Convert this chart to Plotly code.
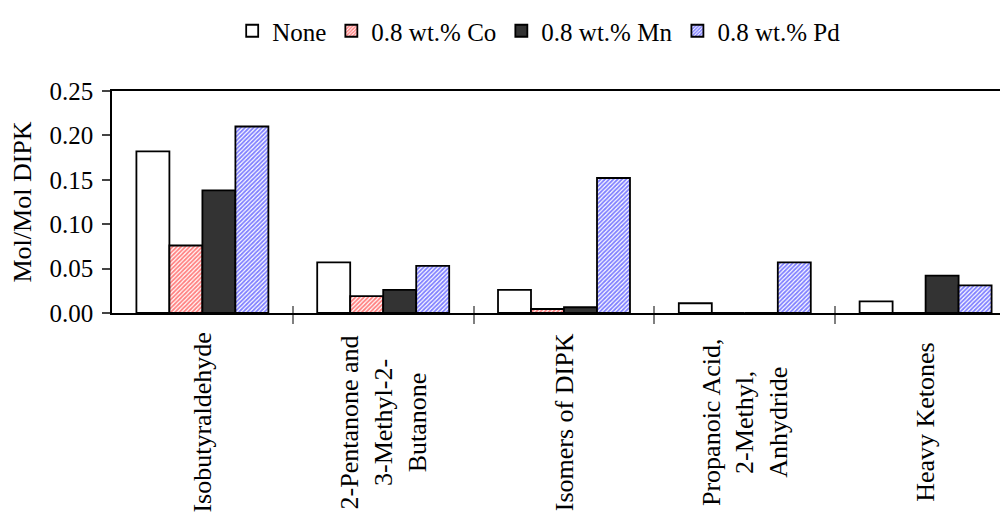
import plotly.graph_objects as go

categories = ["Isobutyraldehyde", "2-Pentanone and<br>3-Methyl-2-<br>Butanone",
              "Isomers of DIPK", "Propanoic Acid,<br>2-Methyl,<br>Anhydride", "Heavy Ketones"]
series_names = ["None", "0.8 wt.% Co", "0.8 wt.% Mn", "0.8 wt.% Pd"]
none_vals = [0.182, 0.057, 0.026, 0.011, 0.013]
co_vals = [0.076, 0.019, 0.0045, 0.0, 0.0]
mn_vals = [0.138, 0.026, 0.0065, 0.0, 0.042]
pd_vals = [0.210, 0.053, 0.152, 0.057, 0.031]
y_ticks = [0.0, 0.05, 0.10, 0.15, 0.20, 0.25]

FONT = "Liberation Serif, Times New Roman, serif"
FS = 25
FS_LAB = 26

x_idx = list(range(len(categories)))

def pat(color):
    return dict(shape="/", fgcolor=color, bgcolor="white", size=3, solidity=0.6)

fig = go.Figure()
fig.add_bar(x=x_idx, y=none_vals, name=series_names[0],
            marker=dict(color="white", line=dict(color="black", width=1.8)))
fig.add_bar(x=x_idx, y=co_vals, name=series_names[1],
            marker=dict(color="white", pattern=pat("#ff0000"), line=dict(color="black", width=1.8)))
fig.add_bar(x=x_idx, y=mn_vals, name=series_names[2],
            marker=dict(color="#333333", line=dict(color="black", width=1.8)))
fig.add_bar(x=x_idx, y=pd_vals, name=series_names[3],
            marker=dict(color="white", pattern=pat("#0000ff"), line=dict(color="black", width=1.8)))

# secondary axis for upper half of crossing ticks
fig.add_trace(go.Scatter(x=[0], y=[0], xaxis="x2", showlegend=False, mode="markers",
                         marker=dict(opacity=0), hoverinfo="skip"))

for i, c in enumerate(categories):
    fig.add_annotation(x=i, y=-0.492, xref="x", yref="paper", text=c, textangle=-90,
                       showarrow=False, xanchor="center", yanchor="middle",
                       font=dict(family=FONT, size=FS_LAB, color="black"), align="center")

xr = [-0.5, 4.5]
fig.update_layout(
    width=1008, height=523,
    margin=dict(l=104, r=0, t=78, b=218),
    paper_bgcolor="white", plot_bgcolor="white",
    barmode="group", bargap=0.27, bargroupgap=0,
    font=dict(family=FONT, size=FS, color="black"),
    showlegend=True,
    legend=dict(orientation="h", x=0.472, y=1.271, xanchor="center", yanchor="middle",
                font=dict(family=FONT, size=FS), itemwidth=30, traceorder="normal",
                bgcolor="rgba(0,0,0,0)"),
    xaxis=dict(range=xr, tickvals=[0.5, 1.5, 2.5, 3.5], showticklabels=False,
               ticks="outside", ticklen=9, tickcolor="#808080", tickwidth=1.5,
               showline=True, linecolor="black", linewidth=1.5, mirror=True,
               showgrid=False, zeroline=False, fixedrange=True),
    xaxis2=dict(range=xr, overlaying="x", tickvals=[0.5, 1.5, 2.5, 3.5], showticklabels=False,
                ticks="inside", ticklen=7, tickcolor="#808080", tickwidth=1.5,
                showline=False, showgrid=False, zeroline=False, side="bottom", anchor="y"),
    yaxis=dict(range=[0, 0.25], tickvals=y_ticks, tickformat=".2f",
               ticks="outside", ticklen=8, tickcolor="#444444", tickwidth=1.5,
               ticklabelstandoff=4,
               showline=True, linecolor="black", linewidth=1.5,
               showgrid=False, zeroline=False,
               title=dict(text="Mol/Mol DIPK", font=dict(family=FONT, size=FS_LAB), standoff=11),
               tickfont=dict(family=FONT, size=FS)),
)

fig.write_html("out.html")
